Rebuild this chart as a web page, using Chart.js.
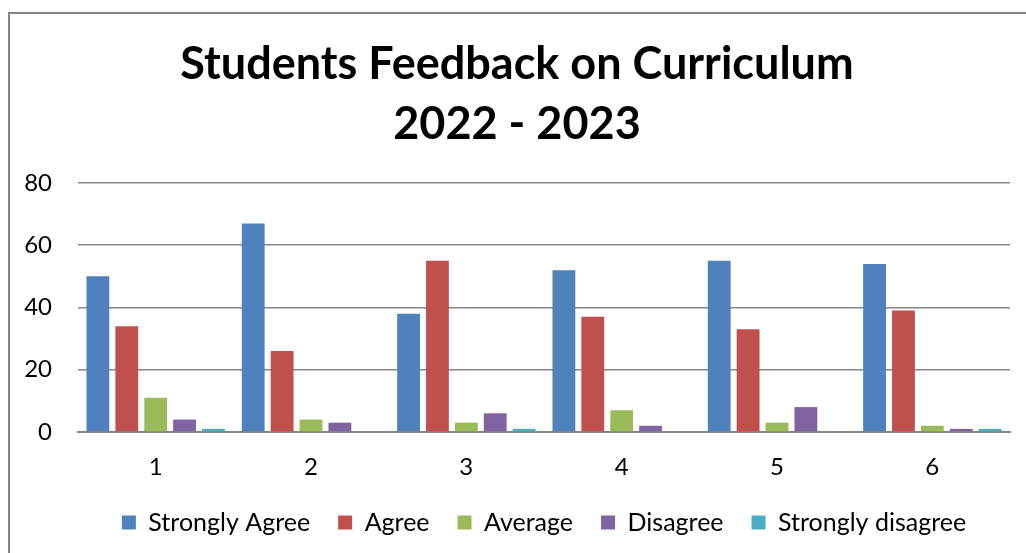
<!DOCTYPE html>
<html>
<head>
<meta charset="utf-8">
<script src="https://cdn.jsdelivr.net/npm/chart.js@4/dist/chart.umd.min.js"></script>
<style>
  html, body { margin: 0; padding: 0; background: #fff; overflow: hidden; }
  #frame { position: absolute; left: 8px; top: 12px; width: 1040px; height: 560px; border: 2px solid #868686; }
  #wrap { position: absolute; left: 0; top: 0; width: 1026px; height: 553px; }
</style>
</head>
<body>
<div id="frame"></div>
<div id="wrap"><canvas id="chart"></canvas></div>
<script>
const categories = ['1', '2', '3', '4', '5', '6'];
const stronglyAgree = [50, 67, 38, 52, 55, 54];
const agree = [34, 26, 55, 37, 33, 39];
const average = [11, 4, 3, 7, 3, 2];
const disagree = [4, 3, 6, 2, 8, 1];
const stronglyDisagree = [1, 0, 1, 0, 0, 1];

const fontFamily = 'Lato, "Open Sans", sans-serif';

const ctx = document.getElementById('chart').getContext('2d');
new Chart(ctx, {
    type: 'bar',
    data: {
        labels: categories,
        datasets: [
            { label: 'Strongly Agree', data: stronglyAgree, backgroundColor: '#4F81BD' },
            { label: 'Agree', data: agree, backgroundColor: '#C0504D' },
            { label: 'Average', data: average, backgroundColor: '#9BBB59' },
            { label: 'Disagree', data: disagree, backgroundColor: '#8064A2' },
            { label: 'Strongly disagree', data: stronglyDisagree, backgroundColor: '#4BACC6' }
        ]
    },
    options: {
        responsive: true,
        maintainAspectRatio: false,
        animation: false,
        datasets: { bar: { barPercentage: 0.79, categoryPercentage: 0.93 } },
        layout: { padding: { left: 24, right: 16, top: 0, bottom: 8 } },
        plugins: {
            title: {
                display: true,
                text: ['Students Feedback on Curriculum', '2022 - 2023'],
                color: '#000',
                font: { family: fontFamily, size: 45, weight: 'bold', lineHeight: 1.3333 },
                padding: { top: 34, bottom: 29 }
            },
            legend: {
                position: 'bottom',
                fullSize: false,
                labels: {
                    color: '#000',
                    font: { family: fontFamily, size: 25 },
                    boxWidth: 14,
                    boxHeight: 14,
                    padding: 28
                }
            },
            tooltip: { enabled: false }
        },
        scales: {
            x: {
                grid: { display: false, drawTicks: false },
                border: { color: '#868686', width: 2 },
                ticks: { color: '#000', font: { family: fontFamily, size: 24 }, padding: 21 },
                afterFit: (scale) => { scale.height = 50; }
            },
            y: {
                min: 0,
                max: 80,
                ticks: { stepSize: 20, color: '#000', font: { family: fontFamily, size: 24 }, padding: 26 },
                grid: { color: '#868686', lineWidth: 1.5, drawTicks: false },
                border: { display: false },
                afterFit: (scale) => { scale.width = 54; }
            }
        }
    }
});
</script>
</body>
</html>
